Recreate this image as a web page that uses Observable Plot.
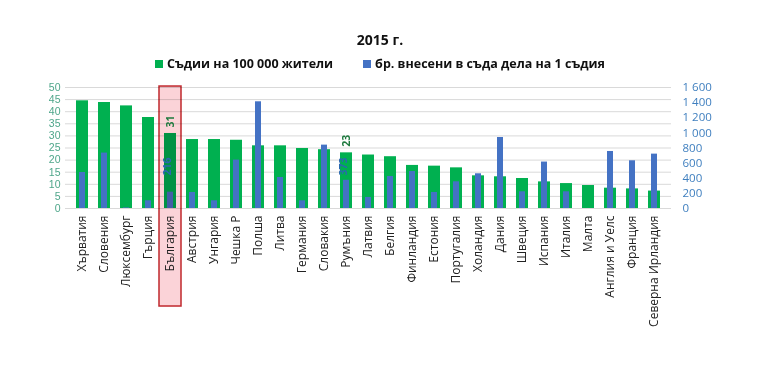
<!DOCTYPE html>
<html>
<head>
<meta charset="utf-8">
<script src="https://cdn.jsdelivr.net/npm/d3@7"></script>
<script src="https://cdn.jsdelivr.net/npm/@observablehq/plot@0.6"></script>
<style>
  html, body { margin: 0; padding: 0; background: #fff; }
  #wrap { position: relative; width: 768px; height: 382px; font-family: "Open Sans", sans-serif; }
  #title { position: absolute; top: 30px; left: 0; width: 760px; text-align: center; font-weight: bold; font-size: 14px; color: #111; }
  #legend { position: absolute; top: 55px; left: 0; width: 760px; display: flex; justify-content: center; gap: 30px; font-weight: bold; font-size: 12.5px; color: #111; }
  #legend span.sw { display: inline-block; width: 8px; height: 8px; margin-right: 4px; vertical-align: 0px; }
  #chart { position: absolute; top: 76px; left: 0; }
</style>
</head>
<body>
<div id="wrap">
  <div id="title">2015 г.</div>
  <div id="legend"></div>
  <div id="chart"></div>
</div>
<script>
const countries = ["Хърватия","Словения","Люксембург","Гърция","България","Австрия","Унгария","Чешка Р","Полша","Литва","Германия","Словакия","Румъния","Латвия","Белгия","Финландия","Естония","Португалия","Холандия","Дания","Швеция","Испания","Италия","Малта","Англия и Уелс","Франция","Северна Ирландия"];
const judges = [44.5,43.8,42.4,37.6,31,28.5,28.5,28.2,25.9,25.9,24.8,24.3,23,22.1,21.4,17.8,17.5,16.8,13.5,13.1,12.4,11.0,10.3,9.5,8.4,8.1,7.2];
const cases = [476,733,8,102,216,212,102,640,1411,410,102,838,373,146,423,489,212,353,459,939,221,614,221,0,754,631,719];
const seriesNames = ["Съдии на 100 000 жители", "бр. внесени в съда дела на 1 съдия"];
const seriesColors = ["#00b050", "#4472c4"];
const leftTicks = d3.range(0, 51, 5);
const rightTicks = d3.range(0, 1601, 200);
const labelled = ["България", "Румъния"];
const highlightCountry = "България";

const ratio = 50 / 1600;
const fmt = v => d3.format(",")(v).replace(/,/g, " ");

const legend = document.getElementById("legend");
seriesNames.forEach((n, i) => {
  const s = document.createElement("div");
  s.innerHTML = `<span class="sw" style="background:${seriesColors[i]}"></span>${n}`;
  legend.appendChild(s);
});

const rows = countries.map((c, i) => ({country: c, judges: judges[i], cases: cases[i], casesScaled: cases[i] * ratio}));
const lab = rows.filter(d => labelled.includes(d.country));

const chart = Plot.plot({
  width: 768,
  height: 306,
  marginTop: 11,
  marginBottom: 174,
  marginLeft: 65,
  marginRight: 97,
  style: {fontFamily: "Open Sans, sans-serif", fontSize: "12px", background: "white"},
  x: {domain: countries, padding: 0.46, axis: null, label: null},
  y: {domain: [0, 50], axis: null, label: null},
  marks: [
    Plot.gridY(leftTicks, {stroke: "#d9d9d9", strokeOpacity: 1}),
    Plot.barY(rows, {x: "country", y: "judges", fill: seriesColors[0]}),
    Plot.barY(rows, {x: "country", y: "casesScaled", fill: seriesColors[1], insetLeft: 3, insetRight: 3}),
    Plot.barY([highlightCountry], {x: d => d, y1: -40.5, y2: 50.4, insetLeft: -5, insetRight: -5,
      fill: "#fbd3d8", stroke: "#c0282d", strokeWidth: 1.5, mixBlendMode: "multiply"}),
    Plot.text(lab, {x: "country", y: "judges", text: d => String(d.judges), rotate: -90, textAnchor: "start", dy: -6,
      fill: "#1f7a3f", fontWeight: "bold", fontSize: 10.5}),
    Plot.text(lab, {x: "country", frameAnchor: "bottom", text: d => String(d.cases), rotate: -90, textAnchor: "start", dy: -33,
      fill: "#2a68b0", fontWeight: "bold", fontSize: 10.5}),
    Plot.axisY({anchor: "left", ticks: leftTicks, tickSize: 0, tickPadding: 5, fill: "#4ea68a", fontSize: 10.5,
      fontFamily: "Liberation Sans, Arial, sans-serif", label: null}),
    Plot.axisY({anchor: "right", ticks: rightTicks.map(v => v * ratio), tickFormat: v => fmt(Math.round(v / ratio)),
      tickSize: 0, tickPadding: 11, fill: "#3f7fbf", fontSize: 11.5, label: null}),
    Plot.axisX({tickRotate: -90, tickSize: 0, tickPadding: 7, fill: "#222", fontSize: 12, label: null})
  ]
});
document.getElementById("chart").appendChild(chart);
</script>
</body>
</html>
